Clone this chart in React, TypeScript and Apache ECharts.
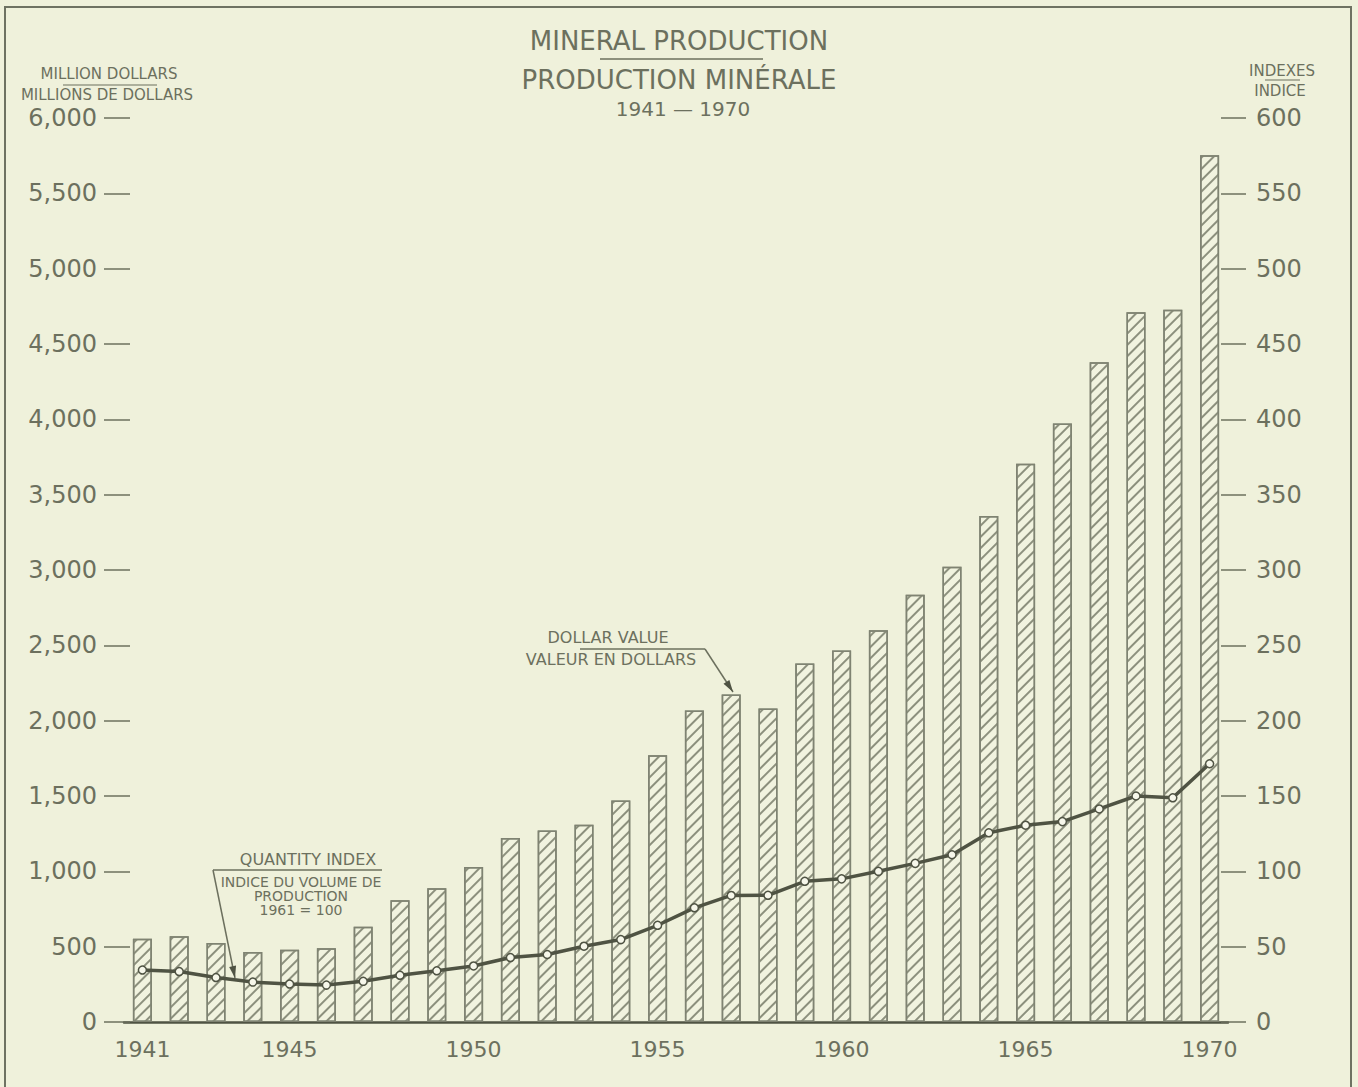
import React, { useEffect, useRef } from 'react';
import * as echarts from 'echarts';

const years = [
  '1941', '1942', '1943', '1944', '1945', '1946', '1947', '1948', '1949', '1950',
  '1951', '1952', '1953', '1954', '1955', '1956', '1957', '1958', '1959', '1960',
  '1961', '1962', '1963', '1964', '1965', '1966', '1967', '1968', '1969', '1970',
];

// Dollar value, million dollars (left axis)
const dollarValue = [
  553, 569, 524, 465, 480, 489, 633, 808, 887, 1029,
  1222, 1271, 1309, 1470, 1771, 2067, 2174, 2081, 2379, 2466,
  2600, 2835, 3022, 3359, 3705, 3972, 4379, 4710, 4727, 5752,
];

// Quantity index, 1961 = 100 (right axis)
const quantityIndex = [
  34.5, 33.5, 29.5, 26.5, 25.2, 24.5, 27, 31, 34, 37.2,
  42.8, 44.8, 50.3, 54.7, 64.2, 75.8, 84, 84.1, 93.4, 95,
  100, 105.3, 111, 125.6, 130.6, 133, 141.4, 150, 148.8, 171.4,
];

const shownYearLabels = ['1941', '1945', '1950', '1955', '1960', '1965', '1970'];

const BG = '#eff1db';
const INK = '#6c705e';
const DARK = '#4f5343';
const FONT = 'DejaVu Sans';

export default function App() {
  const ref = useRef<HTMLDivElement>(null);

  useEffect(() => {
    const chart = echarts.init(ref.current as HTMLDivElement, null, { renderer: 'svg' });

    const txt = (text: string, x: number, y: number, size: number, align = 'center') => ({
      type: 'text',
      x,
      y,
      silent: true,
      style: {
        text,
        font: `${size}px "${FONT}"`,
        fill: INK,
        textAlign: align,
        textVerticalAlign: 'middle',
      },
    });
    const ln = (x1: number, y1: number, x2: number, y2: number, w = 1.5, c = INK) => ({
      type: 'line',
      silent: true,
      shape: { x1, y1, x2, y2 },
      style: { stroke: c, lineWidth: w },
    });
    const arrowHead = (x1: number, y1: number, x2: number, y2: number) => {
      const dx = x2 - x1;
      const dy = y2 - y1;
      const len = Math.sqrt(dx * dx + dy * dy);
      const ux = dx / len;
      const uy = dy / len;
      const bx = x2 - ux * 12;
      const by = y2 - uy * 12;
      const px = -uy * 3.5;
      const py = ux * 3.5;
      return {
        type: 'polygon',
        silent: true,
        shape: { points: [[x2, y2], [bx + px, by + py], [bx - px, by - py]] },
        style: { fill: DARK },
      };
    };

    chart.setOption({
      animation: false,
      backgroundColor: BG,
      grid: { left: 124, right: 130, top: 118, bottom: 65, containLabel: false },
      xAxis: {
        type: 'category',
        data: years,
        boundaryGap: true,
        axisLine: { show: true, lineStyle: { color: DARK, width: 2.5 } },
        axisTick: { show: false },
        splitLine: { show: false },
        axisLabel: {
          interval: 0,
          formatter: (v: string) => (shownYearLabels.includes(v) ? v : ''),
          color: INK,
          fontSize: 22,
          fontFamily: FONT,
          margin: 16,
        },
      },
      yAxis: [
        {
          type: 'value',
          position: 'left',
          min: 0,
          max: 6000,
          interval: 500,
          offset: -6,
          axisLine: { show: false },
          axisTick: { show: true, length: 26, lineStyle: { color: INK, width: 1.5 } },
          splitLine: { show: false },
          axisLabel: {
            color: INK,
            fontSize: 24,
            fontFamily: FONT,
            margin: 33,
            formatter: (v: number) => v.toLocaleString('en-US'),
          },
        },
        {
          type: 'value',
          position: 'right',
          min: 0,
          max: 600,
          interval: 50,
          offset: -7,
          axisLine: { show: false },
          axisTick: { show: true, length: 25, lineStyle: { color: INK, width: 1.5 } },
          splitLine: { show: false },
          axisLabel: {
            color: INK,
            fontSize: 24,
            fontFamily: FONT,
            margin: 35,
          },
        },
      ],
      series: [
        {
          name: 'Dollar value',
          type: 'bar',
          data: dollarValue,
          yAxisIndex: 0,
          barWidth: 19,
          itemStyle: {
            color: '#f1f3df',
            borderColor: '#7f8372',
            borderWidth: 1.5,
            decal: {
              symbol: 'rect',
              symbolSize: 1,
              dashArrayX: [1, 0],
              dashArrayY: [1.2, 5.8],
              rotation: -Math.PI / 4,
              color: '#8c907d',
            },
          },
          z: 2,
        },
        {
          name: 'Quantity index',
          type: 'line',
          data: quantityIndex,
          yAxisIndex: 1,
          symbol: 'circle',
          symbolSize: 8,
          lineStyle: { color: DARK, width: 3.5 },
          itemStyle: { color: '#f6f7ea', borderColor: DARK, borderWidth: 1.5 },
          z: 5,
        },
      ],
      graphic: [
        {
          type: 'rect',
          silent: true,
          shape: { x: 5, y: 7, width: 1346, height: 1100 },
          style: { fill: 'none', stroke: '#6e7262', lineWidth: 2 },
        },
        txt('MINERAL PRODUCTION', 679, 41, 26),
        ln(600, 59, 763, 59),
        txt('PRODUCTION MINÉRALE', 679, 80, 26),
        txt('1941 — 1970', 683, 109, 20),
        txt('MILLION DOLLARS', 109, 74, 15),
        ln(63, 85, 157, 85, 1.2),
        txt('MILLIONS DE DOLLARS', 107, 95, 15),
        txt('INDEXES', 1282, 71, 15),
        ln(1265, 80, 1300, 80, 1.2),
        txt('INDICE', 1280, 91, 15),
        txt('QUANTITY INDEX', 308, 859, 16),
        ln(213, 870, 382, 870),
        txt('INDICE DU VOLUME DE', 301, 882, 14),
        txt('PRODUCTION', 301, 896, 14),
        txt('1961 = 100', 301, 910, 14),
        ln(213, 870, 235, 978),
        arrowHead(213, 870, 235, 978),
        txt('DOLLAR VALUE', 608, 637, 16),
        ln(580, 649, 705, 649),
        txt('VALEUR EN DOLLARS', 611, 659, 16),
        ln(705, 649, 733, 692),
        arrowHead(705, 649, 733, 692),
      ],
    });

    return () => chart.dispose();
  }, []);

  return (
    <div
      ref={ref}
      style={{ position: 'fixed', left: 0, top: 0, width: 1358, height: 1087 }}
    />
  );
}
